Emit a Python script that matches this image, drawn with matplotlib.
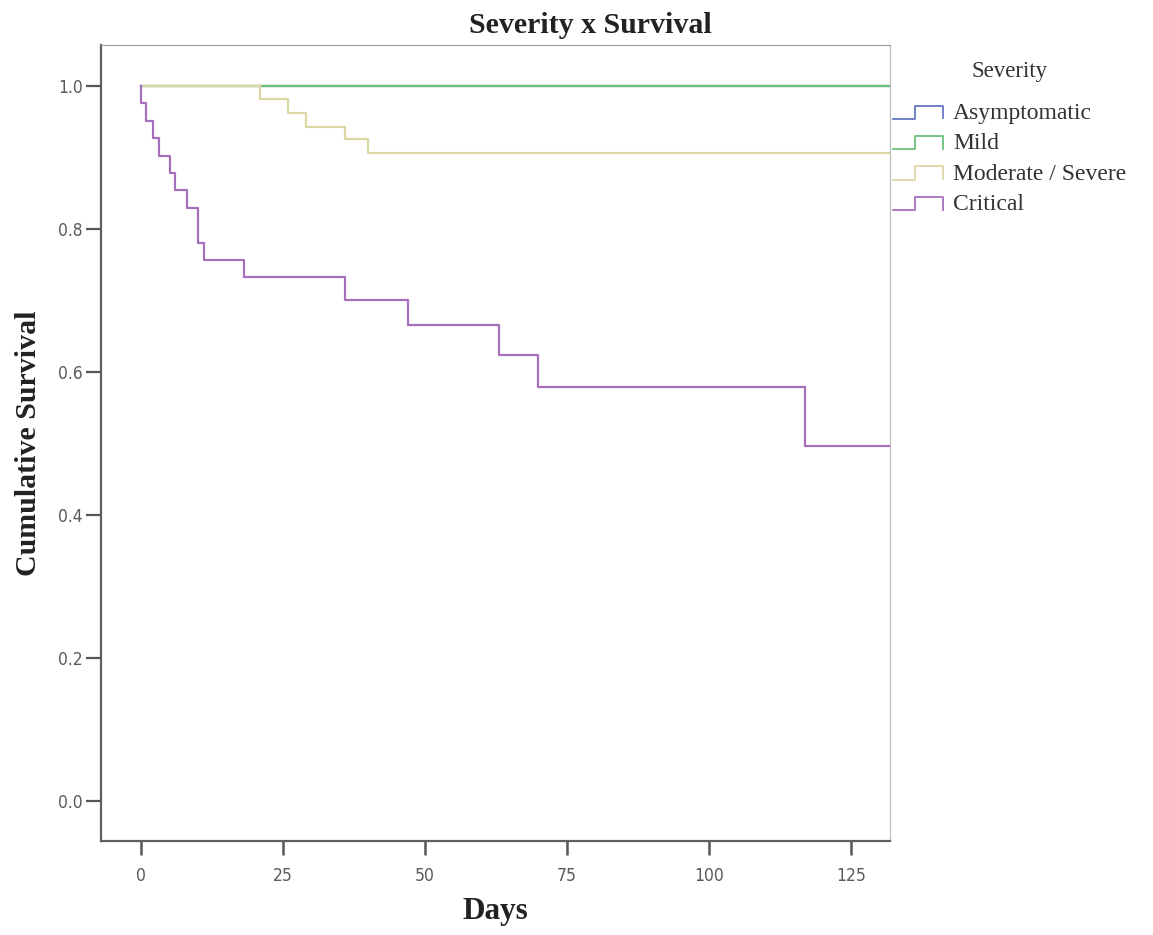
import matplotlib
matplotlib.use("Agg")
import matplotlib.pyplot as plt
from matplotlib.lines import Line2D
from matplotlib.legend_handler import HandlerBase

# Kaplan-Meier step data (days, cumulative survival)
end_day = 132

asym_days = [0, end_day]
asym_surv = [1.0, 1.0]

mild_days = [0, end_day]
mild_surv = [1.0, 1.0]

mod_days = [0, 21, 26, 29, 36, 40, end_day]
mod_surv = [1.0, 0.981, 0.962, 0.943, 0.925, 0.906, 0.906]

crit_days = [0, 0.0, 0.9, 2.1, 3.2, 5.2, 6.0, 8.1, 10.1, 11.1, 18.1, 36, 47, 63, 70, 117, end_day]
crit_surv = [1.0, 0.976, 0.951, 0.927, 0.902, 0.878, 0.854, 0.829, 0.780, 0.756,
             0.732, 0.700, 0.666, 0.624, 0.579, 0.496, 0.496]

groups = ["Asymptomatic", "Mild", "Moderate / Severe", "Critical"]
colors = ["#6677c2", "#6cc07c", "#dcd8a6", "#a56fbd"]

x_ticks = [0, 25, 50, 75, 100, 125]
y_ticks = [0.0, 0.2, 0.4, 0.6, 0.8, 1.0]

serif = ["Liberation Serif", "DejaVu Serif"]
narrow = ["DejaVu Sans", "Liberation Sans"]


class StepHandler(HandlerBase):
    """Step glyph like the one SPSS puts in its legend."""
    def create_artists(self, legend, orig_handle, xdescent, ydescent,
                       width, height, fontsize, trans):
        x0 = -xdescent
        w, h = width, height
        xs = [x0, x0 + 0.45 * w, x0 + 0.45 * w, x0 + w, x0 + w]
        ys = [0.0, 0.0, h, h, 0.05 * h]
        ln = Line2D(xs, ys, color=orig_handle.get_color(), lw=1.3, transform=trans)
        return [ln]


fig = plt.figure(figsize=(11.53, 9.35), dpi=100)
ax = fig.add_axes([0.0876, 0.1005, 0.772 - 0.0876, 0.9519 - 0.1005])

series = [(asym_days, asym_surv), (mild_days, mild_surv), (mod_days, mod_surv), (crit_days, crit_surv)]
handles = []
for (d, s), name, c in zip(series, groups, colors):
    ln, = ax.step(d, s, where="post", color=c, lw=1.6, label=name)
    handles.append(ln)

ax.set_xlim(-7.0, 131.9)
ax.set_ylim(-0.056, 1.057)
ax.set_xticks(x_ticks)
ax.set_yticks(y_ticks)
ax.set_yticklabels([f"{v:.1f}" for v in y_ticks])

for lab in ax.get_xticklabels() + ax.get_yticklabels():
    lab.set_family(narrow)
    lab.set_stretch("condensed")
    lab.set_fontsize(12.5)
    lab.set_color("#5a5a5a")

ax.tick_params(axis="x", length=10, width=1.8, color="#555555", pad=9)
ax.tick_params(axis="y", length=11, width=1.6, color="#555555", pad=2)

for side in ["left", "bottom"]:
    ax.spines[side].set_color("#5f5f5f")
    ax.spines[side].set_linewidth(1.6)
ax.spines["top"].set_color("#9a9a9a")
ax.spines["right"].set_color("#b8b8b8")

ax.set_xlabel("Days", family=serif, fontweight="bold", fontsize=22.5, labelpad=8, color="#222222")
ax.set_ylabel("Cumulative Survival", family=serif, fontweight="bold", fontsize=21.5, labelpad=12, color="#222222")

fig.text(0.512, 0.973, "Severity x Survival", family=serif, fontweight="bold",
         fontsize=21.5, ha="center", va="center", color="#222222")

# legend title placed separately to get SPSS-like spacing
fig.text(1010 / 1153, 1 - 72 / 935, "Severity", family=serif, fontsize=16.5,
         ha="center", va="center", color="#333333")

leg = fig.legend(handles=handles, labels=groups,
                 handler_map={Line2D: StepHandler()},
                 loc="upper left", bbox_to_anchor=(893 / 1153, 1 - 103 / 935),
                 frameon=False, handlelength=2.1, handleheight=0.5, handletextpad=0.45,
                 labelspacing=0.4, borderaxespad=0, borderpad=0,
                 prop={"family": serif, "size": 17})
for t in leg.get_texts():
    t.set_color("#333333")

fig.savefig("out.png", dpi=100)
